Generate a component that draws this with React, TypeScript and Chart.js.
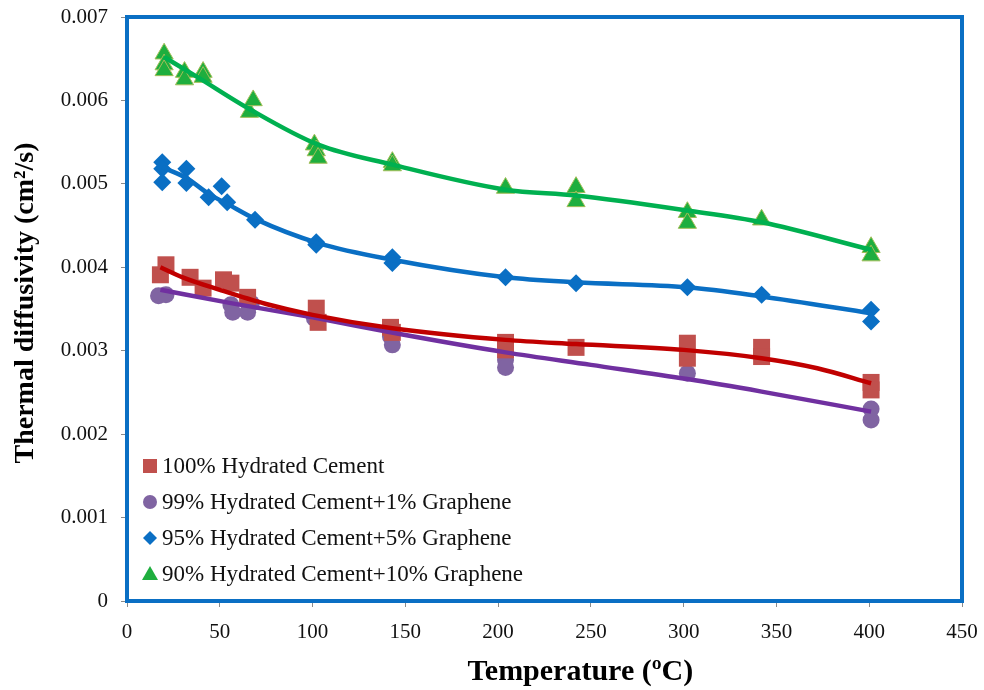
import React, { useEffect, useRef } from 'react';
import { Chart, registerables } from 'chart.js';

Chart.register(...registerables);

// ---- Data: temperature (ºC) and thermal diffusivity (cm²/s) ----

const seriesNames = [
  '100% Hydrated Cement',
  '99% Hydrated Cement+1% Graphene',
  '95% Hydrated Cement+5% Graphene',
  '90% Hydrated Cement+10% Graphene',
];

// 100% hydrated cement – measured points
const cementTemp = [18, 21, 34, 41, 52, 56, 65, 102, 103, 142, 143, 204, 204, 242, 302, 302, 342, 342, 401, 401];
const cementDiff = [0.00391, 0.00403, 0.00388, 0.00375, 0.00385, 0.00381, 0.00364, 0.00351, 0.00334, 0.00328, 0.00322, 0.0031, 0.00301, 0.00304, 0.00309, 0.00291, 0.00304, 0.00293, 0.00262, 0.00253];

// 99% cement + 1% graphene – measured points
const g1Temp = [17, 21, 56, 57, 65, 67, 101, 142, 143, 204, 204, 302, 401, 401];
const g1Diff = [0.00366, 0.00367, 0.00355, 0.00346, 0.00346, 0.00357, 0.00339, 0.00317, 0.00307, 0.00289, 0.0028, 0.00273, 0.0023, 0.00217];

// 95% cement + 5% graphene – measured points
const g5Temp = [19, 19, 19, 32, 32, 44, 51, 54, 69, 102, 102, 143, 143, 204, 242, 302, 342, 401, 401];
const g5Diff = [0.00526, 0.00518, 0.00502, 0.00518, 0.00501, 0.00484, 0.00497, 0.00478, 0.00457, 0.0043, 0.00427, 0.00412, 0.00405, 0.00388, 0.00381, 0.00376, 0.00367, 0.00349, 0.00335];

// 90% cement + 10% graphene – measured points
const g10Temp = [20, 20, 20, 31, 31, 41, 41, 66, 68, 101, 102, 103, 143, 143, 204, 242, 242, 302, 302, 342, 401, 401];
const g10Diff = [0.00656, 0.00643, 0.00636, 0.00634, 0.00625, 0.00634, 0.00628, 0.00586, 0.006, 0.00547, 0.0054, 0.00531, 0.00526, 0.00522, 0.00495, 0.00496, 0.00479, 0.00466, 0.00453, 0.00457, 0.00424, 0.00414];

// Trend lines
const cementFitTemp = [18, 30, 50, 75, 100, 143, 204, 242, 300, 342, 372, 401];
const cementFitDiff = [0.004, 0.00388, 0.00373, 0.00356, 0.00343, 0.00327, 0.00313, 0.00308, 0.00301, 0.00291, 0.00279, 0.00261];

const g1FitTemp = [18, 56, 100, 147, 204, 250, 302, 342, 401];
const g1FitDiff = [0.00373, 0.00357, 0.0034, 0.0032, 0.00298, 0.00283, 0.00266, 0.00251, 0.00227];

const g5FitTemp = [19, 32, 44, 54, 69, 103, 143, 204, 242, 302, 342, 401];
const g5FitDiff = [0.0052, 0.00507, 0.00488, 0.00476, 0.00458, 0.00429, 0.00409, 0.00388, 0.00382, 0.00376, 0.00365, 0.00345];

const g10FitTemp = [20, 38, 65, 103, 143, 204, 242, 302, 342, 401];
const g10FitDiff = [0.00652, 0.00628, 0.00591, 0.00547, 0.00523, 0.00493, 0.00486, 0.00468, 0.00454, 0.00421];

const xTickValues = [0, 50, 100, 150, 200, 250, 300, 350, 400, 450];
const yTickLabels = ['0', '0.001', '0.002', '0.003', '0.004', '0.005', '0.006', '0.007'];

const xTitle = 'Temperature (ºC)';
const yTitle = 'Thermal diffusivity (cm²/s)';

// ---- Styling ----
const SERIF = '"Liberation Serif", "Times New Roman", serif';
const FRAME_BLUE = '#0A6FC4';
const markerFill = ['#C0504D', '#8064A2', '#0A6FC4', '#1EAE3E'];
const markerEdge = ['#C0504D', '#8064A2', '#0A6FC4', '#A3BE5A'];
const markerStyle = ['rect', 'circle', 'rectRot', 'triangle'];
const markerRadius = [12, 8.5, 9, 10.5];
const lineColors = ['#C00000', '#7030A0', '#0A6FC4', '#00B050'];

const pairs = (xs: number[], ys: number[]) => xs.map((x, i) => ({ x, y: ys[i] }));

const pointSets = [
  pairs(cementTemp, cementDiff),
  pairs(g1Temp, g1Diff),
  pairs(g5Temp, g5Diff),
  pairs(g10Temp, g10Diff),
];
const fitSets = [
  pairs(cementFitTemp, cementFitDiff),
  pairs(g1FitTemp, g1FitDiff),
  pairs(g5FitTemp, g5FitDiff),
  pairs(g10FitTemp, g10FitDiff),
];

// Blue frame around the plotting area
const plotFrame = {
  id: 'plotFrame',
  beforeDatasetsDraw(chart: any) {
    const { ctx, chartArea: a } = chart;
    ctx.save();
    ctx.strokeStyle = FRAME_BLUE;
    ctx.lineWidth = 4;
    ctx.strokeRect(a.left, a.top, a.right - a.left, a.bottom - a.top);
    ctx.restore();
  },
};

// Axis titles
const axisTitles = {
  id: 'axisTitles',
  afterDraw(chart: any) {
    const { ctx, chartArea: a } = chart;
    ctx.save();
    ctx.fillStyle = '#000';
    ctx.textAlign = 'center';
    ctx.textBaseline = 'middle';
    ctx.font = `bold 28px ${SERIF}`;
    ctx.translate(26, (a.top + a.bottom) / 2 - 6);
    ctx.rotate(-Math.PI / 2);
    ctx.fillText(yTitle, 0, 0);
    ctx.restore();

    ctx.save();
    ctx.fillStyle = '#000';
    ctx.textAlign = 'center';
    ctx.textBaseline = 'middle';
    ctx.font = `bold 30px ${SERIF}`;
    ctx.fillText(xTitle, a.left + (a.right - a.left) * 0.543, a.bottom + 71);
    ctx.restore();
  },
};

// Legend drawn inside the plot, lower left
const insideLegend = {
  id: 'insideLegend',
  afterDraw(chart: any) {
    const { ctx, chartArea: a } = chart;
    const x0 = a.left + 23;
    const rowY = [a.bottom - 135, a.bottom - 99, a.bottom - 63, a.bottom - 27];
    ctx.save();
    seriesNames.forEach((name, i) => {
      const y = rowY[i];
      ctx.fillStyle = markerFill[i];
      ctx.beginPath();
      if (i === 0) {
        ctx.rect(x0 - 7, y - 7, 14, 14);
      } else if (i === 1) {
        ctx.arc(x0, y, 7, 0, Math.PI * 2);
      } else if (i === 2) {
        ctx.moveTo(x0, y - 7);
        ctx.lineTo(x0 + 7, y);
        ctx.lineTo(x0, y + 7);
        ctx.lineTo(x0 - 7, y);
        ctx.closePath();
      } else {
        ctx.moveTo(x0, y - 8);
        ctx.lineTo(x0 + 8, y + 6);
        ctx.lineTo(x0 - 8, y + 6);
        ctx.closePath();
      }
      ctx.fill();
      ctx.fillStyle = '#111';
      ctx.font = `23px ${SERIF}`;
      ctx.textAlign = 'left';
      ctx.textBaseline = 'middle';
      ctx.fillText(name, x0 + 12, y + 1);
    });
    ctx.restore();
  },
};

export default function App() {
  const canvasRef = useRef<HTMLCanvasElement | null>(null);

  useEffect(() => {
    const canvas = canvasRef.current;
    if (!canvas) return;

    const fitDatasets = fitSets.map((data, i) => ({
      label: seriesNames[i] + ' trend',
      data,
      showLine: true,
      borderColor: lineColors[i],
      borderWidth: 4.5,
      pointRadius: 0,
      pointHoverRadius: 0,
      cubicInterpolationMode: 'monotone' as const,
      fill: false,
      order: 0,
    }));

    const pointDatasets = pointSets.map((data, i) => ({
      label: seriesNames[i],
      data,
      showLine: false,
      pointStyle: markerStyle[i],
      pointRadius: markerRadius[i],
      backgroundColor: markerFill[i],
      borderColor: markerEdge[i],
      borderWidth: i === 3 ? 1 : 0,
      order: 1,
    }));

    const chart = new Chart(canvas, {
      type: 'scatter',
      data: { datasets: [...fitDatasets, ...pointDatasets] as any },
      options: {
        animation: false,
        responsive: false,
        maintainAspectRatio: false,
        layout: { padding: { top: 17, right: 22, left: 0, bottom: 0 } },
        plugins: {
          legend: { display: false },
          tooltip: { enabled: false },
        },
        scales: {
          x: {
            type: 'linear',
            min: 0,
            max: 450,
            afterBuildTicks: (scale: any) => {
              scale.ticks = xTickValues.map((v) => ({ value: v }));
            },
            afterFit: (scale: any) => {
              scale.height = 89;
              scale.paddingLeft = 0;
              scale.paddingRight = 0;
            },
            grid: {
              display: true,
              drawOnChartArea: false,
              drawTicks: true,
              tickLength: 6,
              color: '#8a8a8a',
              lineWidth: 1,
            },
            border: { display: false },
            ticks: {
              color: '#111',
              padding: 13,
              font: { family: SERIF, size: 21 },
              maxRotation: 0,
              autoSkip: false,
            },
          },
          y: {
            type: 'linear',
            min: 0,
            max: 0.007,
            ticks: {
              stepSize: 0.001,
              color: '#111',
              padding: 13,
              font: { family: SERIF, size: 21 },
              autoSkip: false,
              callback: (_v: any, index: number) => yTickLabels[index],
            },
            afterFit: (scale: any) => {
              scale.width = 127;
              scale.paddingTop = 0;
              scale.paddingBottom = 0;
            },
            grid: {
              display: true,
              drawOnChartArea: false,
              drawTicks: true,
              tickLength: 6,
              color: '#8a8a8a',
              lineWidth: 1,
            },
            border: { display: false },
          },
        },
      },
      plugins: [plotFrame, axisTitles, insideLegend],
    });

    return () => chart.destroy();
  }, []);

  return (
    <div style={{ position: 'fixed', left: 0, top: 0, width: 984, height: 690, background: '#fff' }}>
      <canvas ref={canvasRef} width={984} height={690} style={{ display: 'block' }} />
    </div>
  );
}
